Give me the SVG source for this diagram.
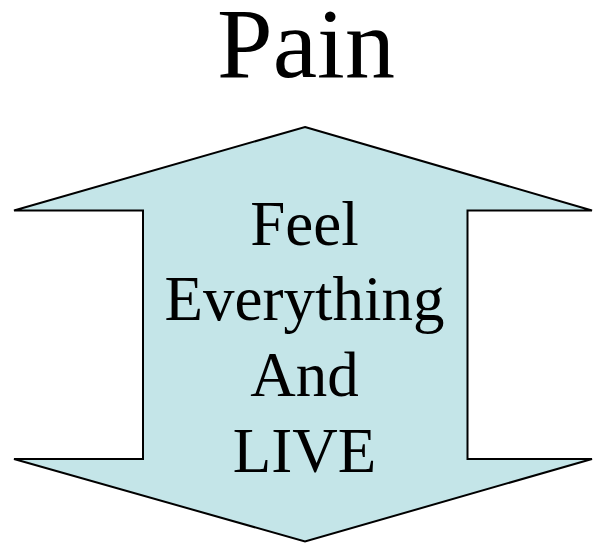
<svg xmlns="http://www.w3.org/2000/svg" width="593" height="543" viewBox="0 0 593 543">
<style>
text{font-family:"Liberation Serif","Times New Roman",serif;fill:#000;text-anchor:middle}
.arrow{fill:#c4e5e8;stroke:#000;stroke-width:2;stroke-linejoin:miter}
.lbl{font-size:63px}
</style>
<rect width="593" height="543" fill="#fff"/>
<g id="title"><text x="306" y="77" style="font-size:100px">Pain</text></g>
<g id="arrow">
<polygon class="arrow" points="305,127 592,210.5 467.5,210.5 467.5,459 592,459 305,541.5 14,459 143,459 143,210.5 14,210.5"/>
<text class="lbl" x="304.5" y="245">Feel</text>
<text class="lbl" x="304.5" y="320">Everything</text>
<text class="lbl" x="304.5" y="396">And</text>
<text class="lbl" x="304.5" y="471.5">LIVE</text>
</g>
</svg>
